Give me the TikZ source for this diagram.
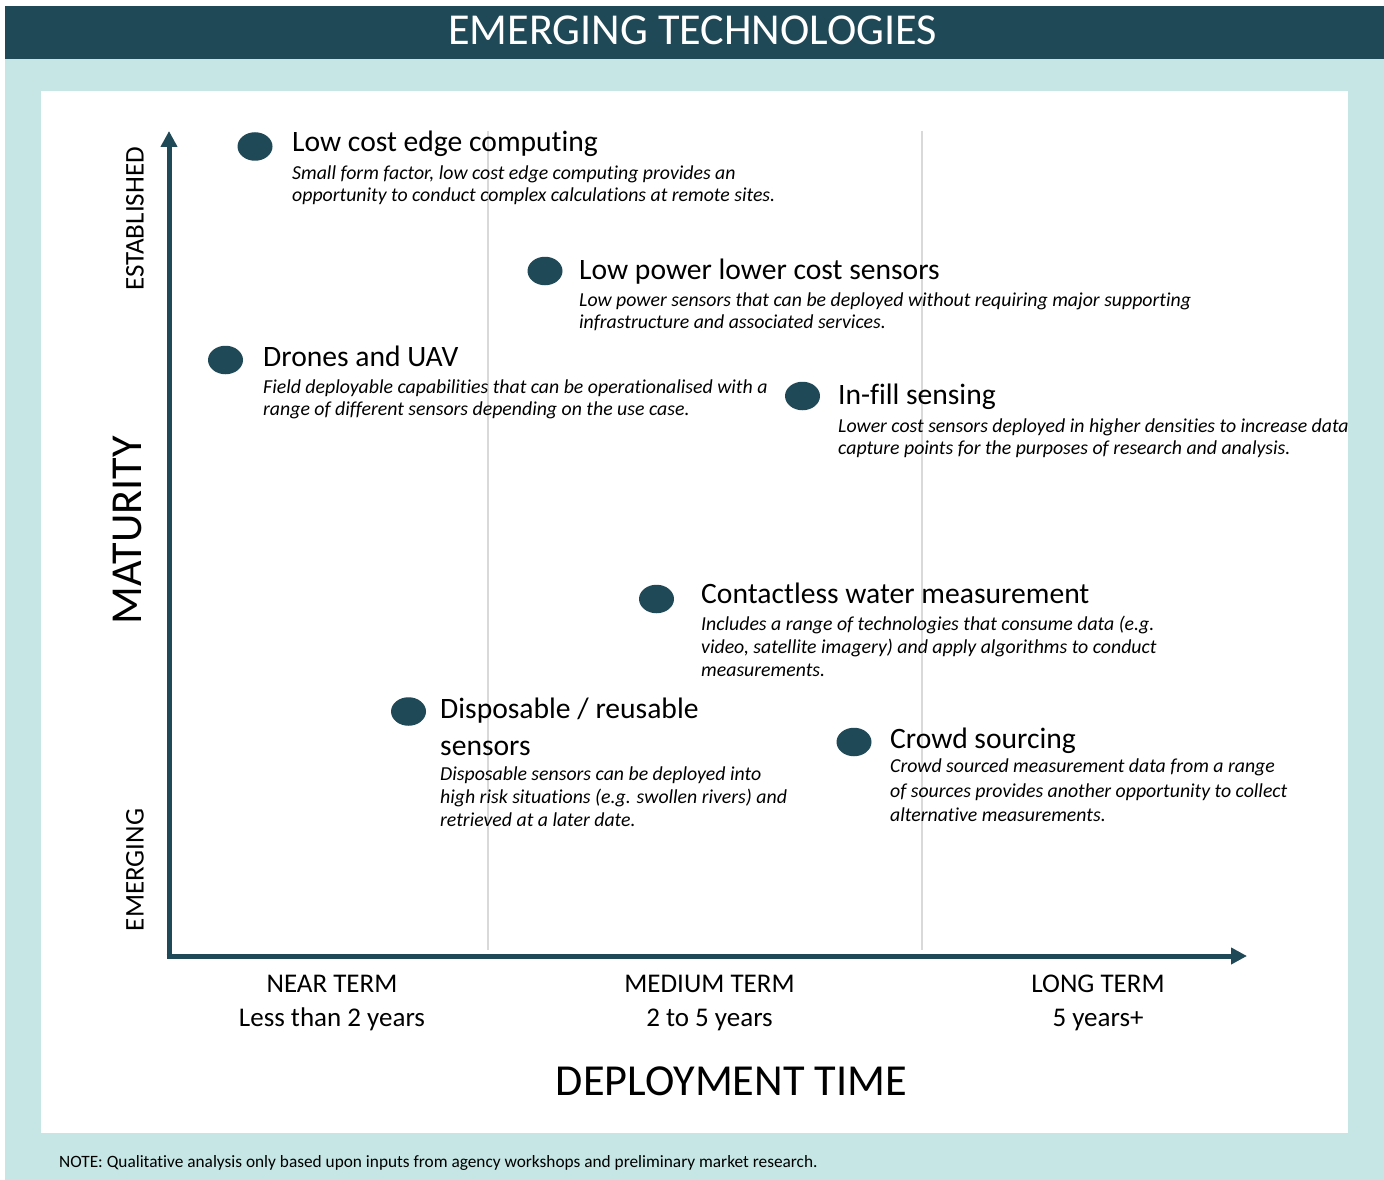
\documentclass[tikz,border=0pt]{standalone}
\usepackage{fontspec}
\setmainfont{Carlito}[Ligatures={NoCommon}]
\usetikzlibrary{arrows.meta,shapes.geometric}
\definecolor{dark}{HTML}{1F4957}
\definecolor{lightteal}{HTML}{C5E6E4}
\definecolor{gridgray}{HTML}{D9D9D9}
\tikzset{
  dot/.style={ellipse, fill=dark, draw=none, minimum width=35pt, minimum height=28.5pt, inner sep=0pt},
  ttl/.style={anchor=base west, inner sep=0pt, font=\fontsize{29.6}{35}\selectfont},
  dsc/.style={anchor=base west, inner sep=0pt, font=\fontsize{19.8}{24}\selectfont\itshape},
  axlab/.style={anchor=base, inner sep=0pt, font=\fontsize{27}{32}\selectfont},
  sidelab/.style={rotate=90, inner sep=0pt, font=\fontsize{27}{32}\selectfont},
  axisline/.style={draw=dark, line width=5pt, -{Triangle[length=16pt,width=16pt]}},
  gridline/.style={draw=gridgray, line width=1.5pt}
}
\begin{document}
\begin{tikzpicture}[x=1pt,y=-1pt]
\useasboundingbox (0,0) rectangle (1384,1180);
\fill[white] (0,0) rectangle (1384,1180);
% backgrounds
\fill[lightteal] (5,59) rectangle (1384,1180);
\fill[dark] (5,6) rectangle (1384,59);
\fill[white] (41,91) rectangle (1348,1133);
\node[anchor=base, inner sep=0pt, text=white, font=\fontsize{44.2}{50}\selectfont] (title) at (692.5,45) {EMERGING TECHNOLOGIES};
% grid lines
\coordinate (g1t) at (488,131);
\coordinate (g1b) at (488,950);
\coordinate (g2t) at (922,131);
\coordinate (g2b) at (922,950);
\draw[gridline] (g1t) -- (g1b);
\draw[gridline] (g2t) -- (g2b);
% axes
\coordinate (yorig) at (169,958.5);
\coordinate (ytip) at (169,131);
\coordinate (xorig) at (166.5,956);
\coordinate (xtip) at (1247,956);
\draw[axisline] (yorig) -- (ytip);
\draw[axisline] (xorig) -- (xtip);
% side labels
\node[sidelab] (est) at (135,219) {ESTABLISHED};
\node[sidelab, font=\fontsize{44.2}{50}\selectfont] (mat) at (127,530) {MATURITY};
\node[sidelab] (emg) at (135,870) {EMERGING};
% bottom labels
\node[axlab] (near) at (332,992) {NEAR TERM};
\node[axlab] (nearsub) at (332,1026) {Less than 2 years};
\node[axlab] (med) at (709.5,992) {MEDIUM TERM};
\node[axlab] (medsub) at (709.5,1026) {2 to 5 years};
\node[axlab] (long) at (1098,992) {LONG TERM};
\node[axlab] (longsub) at (1098,1026) {5 years+};
\node[anchor=base, inner sep=0pt, font=\fontsize{44.3}{50}\selectfont] (xlab) at (731.5,1095) {DEPLOYMENT TIME};
\node[anchor=base west, inner sep=0pt, font=\fontsize{17.3}{21}\selectfont] (note) at (59,1167) {NOTE: Qualitative analysis only based upon inputs from agency workshops and preliminary market research.};
% item 1
\node[dot] (p1) at (255,146.5) {};
\node[ttl] (t1) at (292,152) {Low cost edge computing};
\node[dsc] (d1a) at (292,179) {Small form factor, low cost edge computing provides an};
\node[dsc] (d1b) at (292,201) {opportunity to conduct complex calculations at remote sites.};
% item 2
\node[dot] (p2) at (545,271) {};
\node[ttl] (t2) at (579,279) {Low power lower cost sensors};
\node[dsc] (d2a) at (579,306) {Low power sensors that can be deployed without requiring major supporting};
\node[dsc] (d2b) at (579,328) {infrastructure and associated services.};
% item 3
\node[dot] (p3) at (225.5,360) {};
\node[ttl] (t3) at (263,366) {Drones and UAV};
\node[dsc] (d3a) at (263,393) {Field deployable capabilities that can be operationalised with a};
\node[dsc] (d3b) at (263,415) {range of different sensors depending on the use case.};
% item 4
\node[dot] (p4) at (802.5,396) {};
\node[ttl] (t4) at (838,404) {In-fill sensing};
\node[dsc] (d4a) at (838,432) {Lower cost sensors deployed in higher densities to increase data};
\node[dsc] (d4b) at (838,454) {capture points for the purposes of research and analysis.};
% item 5
\node[dot] (p5) at (656.5,599) {};
\node[ttl] (t5) at (701,603) {Contactless water measurement};
\node[dsc] (d5a) at (701,630) {Includes a range of technologies that consume data (e.g.};
\node[dsc] (d5b) at (701,653) {video, satellite imagery) and apply algorithms to conduct};
\node[dsc] (d5c) at (701,676) {measurements.};
% item 6
\node[dot] (p6) at (408.5,711.5) {};
\node[ttl] (t6a) at (440,718) {Disposable / reusable};
\node[ttl] (t6b) at (440,755) {sensors};
\node[dsc] (d6a) at (440,780) {Disposable sensors can be deployed into};
\node[dsc] (d6b) at (440,803) {high risk situations (e.g. swollen rivers) and};
\node[dsc] (d6c) at (440,826) {retrieved at a later date.};
% item 7
\node[dot] (p7) at (854,742) {};
\node[ttl] (t7) at (890,748) {Crowd sourcing};
\node[dsc] (d7a) at (890,772) {Crowd sourced measurement data from a range};
\node[dsc] (d7b) at (890,797) {of sources provides another opportunity to collect};
\node[dsc] (d7c) at (890,821) {alternative measurements.};
\end{tikzpicture}
\end{document}
